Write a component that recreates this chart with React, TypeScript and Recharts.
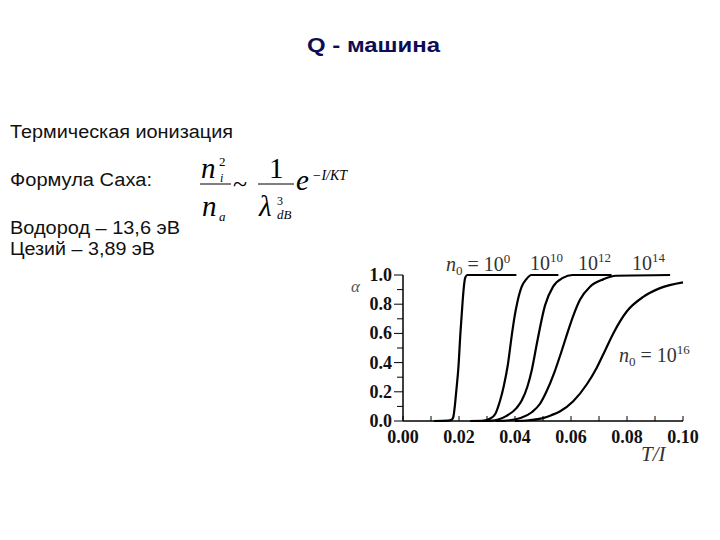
import { LineChart, Line, XAxis, YAxis } from "recharts";

// T/I values and ionisation degree for each density curve
const T_E0 = [0.011, 0.016, 0.0175, 0.018, 0.0185, 0.019, 0.0198, 0.0205, 0.0213, 0.0218, 0.0222, 0.023, 0.0405];
const A_E0 = [0, 0.002, 0.01, 0.03, 0.1, 0.2, 0.37, 0.6, 0.82, 0.93, 0.98, 1.0, 1.0];

const T_E10 = [0.024, 0.029, 0.031, 0.033, 0.0346, 0.036, 0.0374, 0.0388, 0.0398, 0.0408, 0.0424, 0.044, 0.0458, 0.0555];
const A_E10 = [0, 0.003, 0.015, 0.05, 0.135, 0.24, 0.38, 0.58, 0.71, 0.81, 0.92, 0.97, 1.0, 1.0];

const T_E12 = [0.028, 0.032, 0.034, 0.037, 0.0406, 0.0424, 0.0445, 0.046, 0.048, 0.0507, 0.0536, 0.0571, 0.0605, 0.0745];
const A_E12 = [0, 0.002, 0.01, 0.035, 0.09, 0.14, 0.24, 0.35, 0.55, 0.79, 0.92, 0.98, 1.0, 1.0];

const T_E14 = [0.033, 0.038, 0.042, 0.046, 0.049, 0.0512, 0.054, 0.0565, 0.0585, 0.0608, 0.0632, 0.0668, 0.0715, 0.076, 0.0954];
const A_E14 = [0, 0.005, 0.02, 0.06, 0.12, 0.2, 0.33, 0.47, 0.59, 0.72, 0.83, 0.92, 0.97, 0.995, 1.0];

const T_E16 = [0.04, 0.045, 0.05, 0.053, 0.056, 0.0608, 0.0656, 0.0692, 0.0721, 0.0751, 0.0799, 0.0858, 0.0918, 0.1];
const A_E16 = [0, 0.005, 0.02, 0.04, 0.065, 0.135, 0.25, 0.365, 0.48, 0.6, 0.75, 0.85, 0.91, 0.95];

const X_TICKS = [0, 0.01, 0.02, 0.03, 0.04, 0.05, 0.06, 0.07, 0.08, 0.09, 0.1];
const X_TICK_LABELS = ["0.00", "", "0.02", "", "0.04", "", "0.06", "", "0.08", "", "0.10"];
const Y_TICKS = [0, 0.1, 0.2, 0.3, 0.4, 0.5, 0.6, 0.7, 0.8, 0.9, 1.0];
const Y_TICK_LABELS = ["0.0", "", "0.2", "", "0.4", "", "0.6", "", "0.8", "", "1.0"];

const zip = (t: number[], a: number[]) => t.map((v, i) => ({ t: v, a: a[i] }));
const series = [
  zip(T_E0, A_E0),
  zip(T_E10, A_E10),
  zip(T_E12, A_E12),
  zip(T_E14, A_E14),
  zip(T_E16, A_E16),
];

const SERIF = "'Liberation Serif', 'DejaVu Serif', serif";
const SANS = "'Liberation Sans', Arial, sans-serif";

// axis line y / x are passed in as the tick anchor because tickSize and tickMargin are 0
const renderXTick = (props: any) => {
  const { x, y, payload } = props;
  const i = X_TICKS.findIndex((v) => Math.abs(v - payload.value) < 1e-9);
  const label = X_TICK_LABELS[i];
  return (
    <g key={`xt-${i}`}>
      <line x1={x} x2={x} y1={y} y2={y - 5} stroke="#000" strokeWidth={1} />
      {label ? (
        <text x={x} y={y + 22} textAnchor="middle" fontFamily={SERIF} fontWeight="bold" fontSize={18} fill="#111">
          {label}
        </text>
      ) : null}
    </g>
  );
};

const renderYTick = (props: any) => {
  const { x, y, payload } = props;
  const i = Y_TICKS.findIndex((v) => Math.abs(v - payload.value) < 1e-9);
  const label = Y_TICK_LABELS[i];
  return (
    <g key={`yt-${i}`}>
      <line x1={x} x2={x - (label ? 9 : 6)} y1={y} y2={y} stroke="#000" strokeWidth={1} />
      {label ? (
        <text x={x - 11} y={y + 6} textAnchor="end" fontFamily={SERIF} fontWeight="bold" fontSize={18} fill="#111">
          {label}
        </text>
      ) : null}
    </g>
  );
};

function DensityLabel({ x, y, exp, prefix }: { x: number; y: number; exp: number; prefix: boolean }) {
  return (
    <text x={x} y={y} fontFamily={SERIF} fontSize={20} fill="#333">
      {prefix ? <tspan fontStyle="italic">n</tspan> : null}
      {prefix ? <tspan fontSize={13} dy={4}>0</tspan> : null}
      <tspan dy={prefix ? -4 : 0}>{prefix ? " = 10" : "10"}</tspan>
      <tspan fontSize={13} dy={-8}>{exp}</tspan>
    </text>
  );
}

export default function App() {
  return (
    <div style={{ position: "absolute", left: 0, top: 0, width: 720, height: 540, background: "#fff" }}>
      <div style={{ position: "absolute", left: 0, top: 0 }}>
        <LineChart width={720} height={540} margin={{ top: 275, right: 37, bottom: 79, left: 363 }}>
          <XAxis
            dataKey="t"
            type="number"
            domain={[0, 0.1]}
            ticks={X_TICKS}
            interval={0}
            height={40}
            tickSize={0}
            tickMargin={0}
            tick={renderXTick}
            axisLine={{ stroke: "#000", strokeWidth: 1.5 }}
            allowDuplicatedCategory={false}
          />
          <YAxis
            type="number"
            domain={[0, 1]}
            ticks={Y_TICKS}
            interval={0}
            width={40}
            tickSize={0}
            tickMargin={0}
            tick={renderYTick}
            axisLine={{ stroke: "#000", strokeWidth: 1.5 }}
          />
          {series.map((d, i) => (
            <Line
              key={i}
              data={d}
              dataKey="a"
              type="monotone"
              stroke="#000"
              strokeWidth={2.2}
              dot={false}
              isAnimationActive={false}
            />
          ))}
        </LineChart>
      </div>
      <svg width={720} height={540} style={{ position: "absolute", left: 0, top: 0, pointerEvents: "none" }}>
        <text x={307} y={52} fontFamily={SANS} fontWeight="bold" fontSize={21} fill="#0d0d55" textLength={133} lengthAdjust="spacingAndGlyphs">
          Q - машина
        </text>

        <g fontFamily={SANS} fontSize={18} fill="#111">
          <text x={10} y={138} textLength={223} lengthAdjust="spacingAndGlyphs">Термическая ионизация</text>
          <text x={10} y={186} textLength={142} lengthAdjust="spacingAndGlyphs">Формула Саха:</text>
          <text x={10} y={234} textLength={170} lengthAdjust="spacingAndGlyphs">Водород – 13,6 эВ</text>
          <text x={10} y={255} textLength={145} lengthAdjust="spacingAndGlyphs">Цезий – 3,89 эВ</text>
        </g>

        <g fontFamily={SERIF} fill="#000">
          <text x={201} y={178} fontSize={29} fontStyle="italic">n</text>
          <text x={219} y={166} fontSize={13}>2</text>
          <text x={220} y={182} fontSize={12} fontStyle="italic">i</text>
          <line x1={200} x2={231} y1={184} y2={184} stroke="#000" strokeWidth={1} />
          <text x={202} y={216} fontSize={29} fontStyle="italic">n</text>
          <text x={219} y={221} fontSize={13} fontStyle="italic">a</text>
          <text x={233} y={192} fontSize={26}>~</text>
          <text x={269} y={178} fontSize={29}>1</text>
          <line x1={258} x2={294} y1={184} y2={184} stroke="#000" strokeWidth={1} />
          <text x={259} y={216} fontSize={29} fontStyle="italic">λ</text>
          <text x={277} y={205} fontSize={12}>3</text>
          <text x={277} y={219} fontSize={13} fontStyle="italic">dB</text>
          <text x={296} y={190} fontSize={29} fontStyle="italic">e</text>
          <text x={312} y={180} fontSize={14} fontStyle="italic">−I/KT</text>
        </g>

        <DensityLabel x={446} y={271} exp={0} prefix />
        <DensityLabel x={530} y={270} exp={10} prefix={false} />
        <DensityLabel x={578} y={270} exp={12} prefix={false} />
        <DensityLabel x={632} y={270} exp={14} prefix={false} />
        <DensityLabel x={619} y={362} exp={16} prefix />

        <text x={351} y={292} fontFamily={SERIF} fontStyle="italic" fontSize={17} fill="#555">α</text>
        <text x={641} y={461} fontFamily={SERIF} fontStyle="italic" fontSize={21} fill="#333">T/I</text>
      </svg>
    </div>
  );
}
